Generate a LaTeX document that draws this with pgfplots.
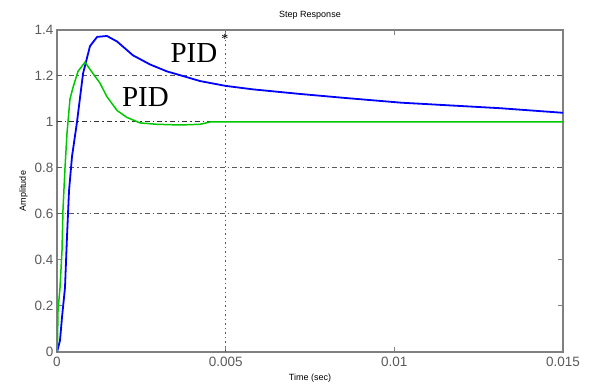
\documentclass[border=0pt]{standalone}
\usepackage{fontspec}
\setmainfont{Liberation Sans}
\newfontfamily\seriffont{Liberation Serif}
\usepackage{pgfplots}
\pgfplotsset{compat=1.18}
\definecolor{axgray}{RGB}{128,128,128}
\definecolor{tickgray}{RGB}{90,90,90}
\definecolor{mgreen}{RGB}{0,200,0}
\begin{document}
\begin{tikzpicture}[x=1pt,y=1pt]
\useasboundingbox (-57pt,-38pt) rectangle (534pt,352pt);
\begin{axis}[
  at={(0pt,0pt)}, anchor=south west,
  width=506pt, height=322pt, scale only axis,
  xmin=0, xmax=0.015, ymin=0, ymax=1.4,
  xtick={0,0.005,0.01,0.015},
  xticklabels={0,0.005,0.01,0.015},
  ytick={0,0.2,0.4,0.6,0.8,1,1.2,1.4},
  yticklabels={0,0.2,0.4,0.6,0.8,1,1.2,1.4},
  scaled x ticks=false,
  tick align=inside,
  major tick length=5pt,
  axis line style={axgray, line width=1.2pt},
  every tick/.style={axgray, line width=1pt},
  tick label style={font=\fontsize{13.5}{14}\selectfont, text=tickgray},
  xticklabel style={yshift=-2pt},
  title={Step Response},
  title style={font=\fontsize{9}{10}\selectfont, at={(0.5,1)}, yshift=1pt},
  xlabel={Time (sec)},
  ylabel={Amplitude},
  xlabel style={font=\fontsize{9}{10}\selectfont, yshift=0pt},
  ylabel style={font=\fontsize{9}{10}\selectfont, yshift=0pt},
  extra x ticks={0.005},
  extra x tick labels={},
  extra x tick style={grid=major, major grid style={tickgray, line width=1.1pt, dash pattern=on 1.5pt off 3pt}, major tick length=0pt},
  extra y ticks={0.6,0.8,1.2},
  extra y tick labels={},
  extra y tick style={grid=major, major grid style={tickgray, line width=1pt, dash pattern=on 5pt off 3pt on 1.5pt off 3pt}, major tick length=0pt},
  clip=true,
]
\addplot[black!80, line width=1pt, dash pattern=on 5pt off 3pt on 1.5pt off 3pt, forget plot] coordinates {(0,1) (0.015,1)};
\addplot[blue, line width=1.8pt] coordinates {
(0,0) (0.0000889,0.05) (0.000148,0.15) (0.000237,0.28) (0.000296,0.5)
(0.000356,0.7) (0.000445,0.85) (0.000593,1.0) (0.000771,1.21) (0.000978,1.33)
(0.00119,1.37) (0.00148,1.374) (0.00178,1.35) (0.00225,1.29) (0.00276,1.25)
(0.00326,1.22) (0.00373,1.20) (0.00424,1.178) (0.0050,1.157) (0.0058,1.142)
(0.0072,1.122) (0.0085,1.105) (0.0102,1.084) (0.01313,1.06) (0.015,1.04)
};
\addplot[mgreen, line width=1.5pt] coordinates {
(0,0) (0.000015,0.05) (0.00003,0.18) (0.000089,0.28) (0.000148,0.44)
(0.000178,0.62) (0.000237,0.80) (0.000296,0.95) (0.000385,1.10) (0.000474,1.15)
(0.000622,1.22) (0.00083,1.26) (0.00107,1.21) (0.00127,1.17) (0.00148,1.11)
(0.00178,1.05) (0.00207,1.02) (0.00246,0.996) (0.00296,0.99) (0.00365,0.987)
(0.00424,0.99) (0.00454,1.0) (0.015,1.0)
};
\node[font=\seriffont\fontsize{29}{30}\selectfont, inner sep=0pt] at (axis cs:0.00406,1.302) {PID};
\node[font=\seriffont\fontsize{14}{15}\selectfont, inner sep=0pt] at (axis cs:0.00498,1.362) {*};
\node[font=\seriffont\fontsize{29}{30}\selectfont, inner sep=0pt] at (axis cs:0.00262,1.109) {PID};
\end{axis}
\end{tikzpicture}
\end{document}
